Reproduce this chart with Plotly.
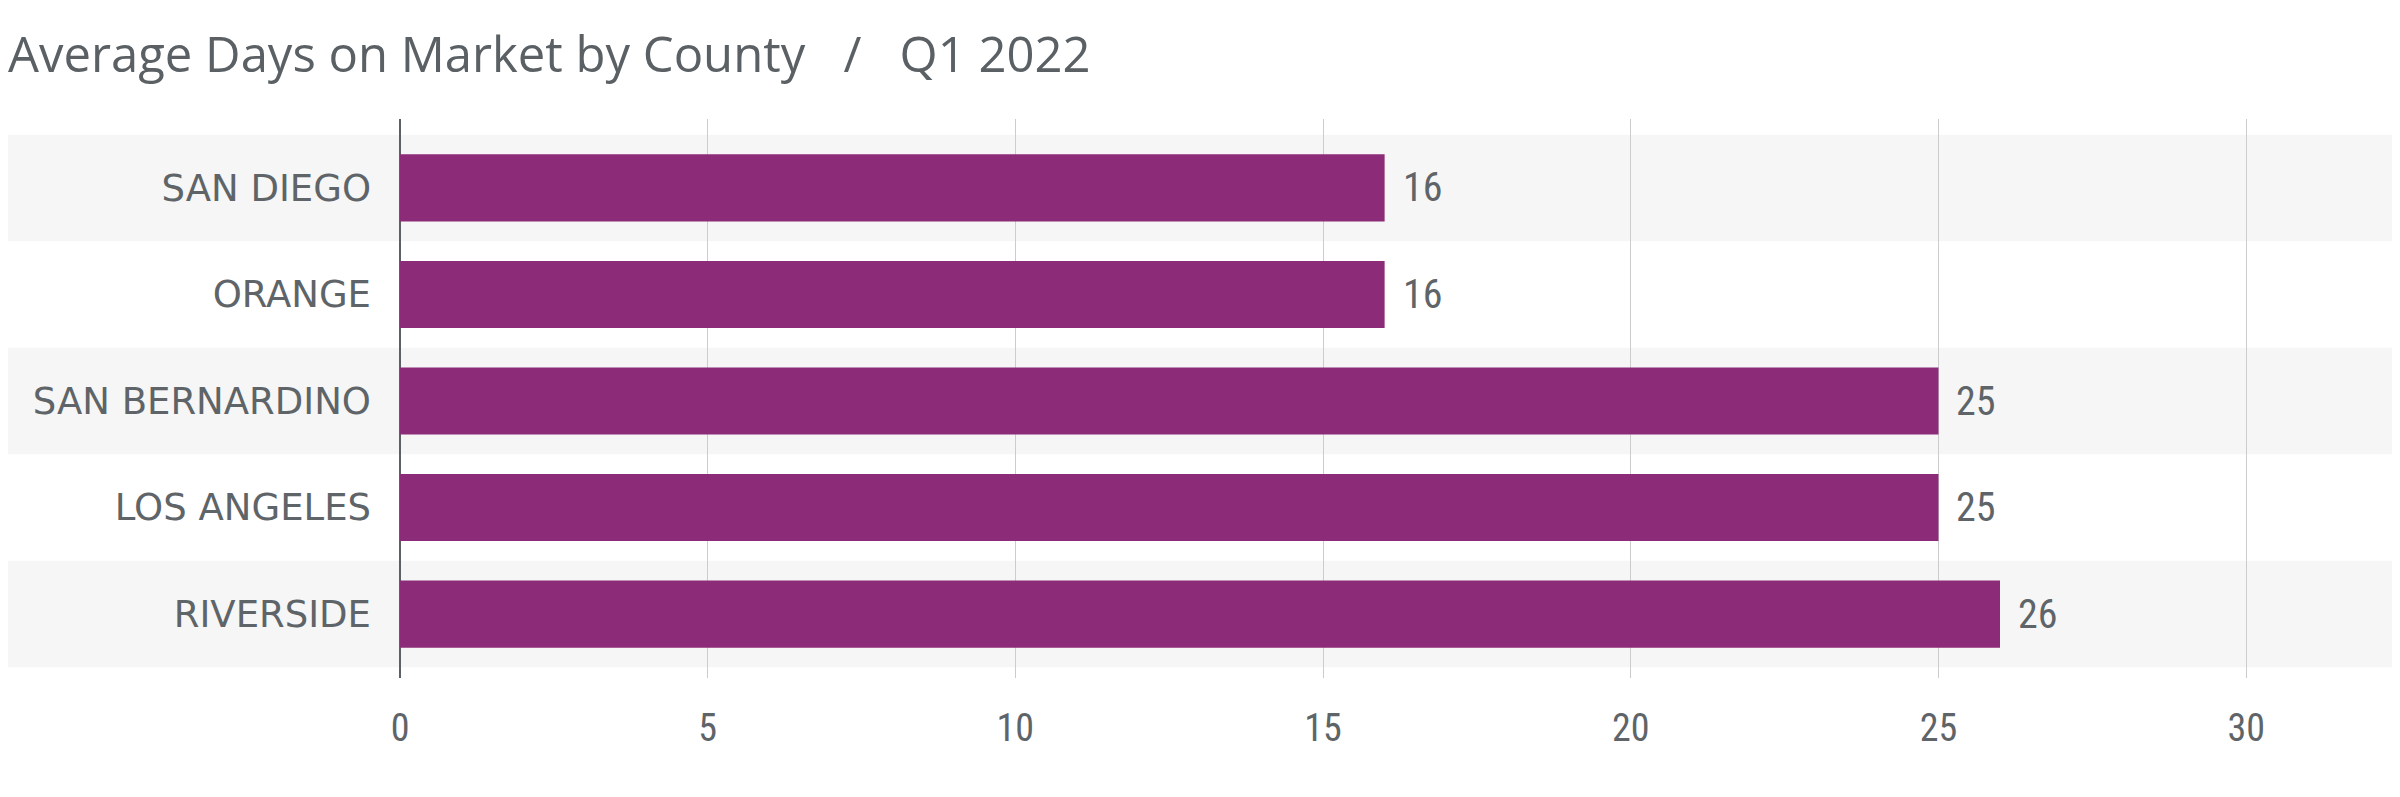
import plotly.graph_objects as go

counties = ["SAN DIEGO", "ORANGE", "SAN BERNARDINO", "LOS ANGELES", "RIVERSIDE"]
days = [16, 16, 25, 25, 26]
x_ticks = [0, 5, 10, 15, 20, 25, 30]
title_text = "Average Days on Market by County \u00a0\u00a0/\u00a0\u00a0 Q1 2022"

BAR = "#8C2B77"
TXT = "#5E6468"
BAND = "#F6F6F6"
NUM_FONT = "Roboto Condensed, DejaVu Sans Condensed"
LBL_FONT = "DejaVu Sans"

OFF = 8  # page body margin
W, H = 2400, 797
ML, MR, MT, MB = 400 - OFF, OFF, 119 - OFF, 119 + OFF
y_range = [4.6, -0.647]
x_range = [0, 32.5]
PW = W - ML - MR

idx = list(range(len(counties)))

fig = go.Figure()
fig.add_trace(go.Bar(
    x=days, y=idx, orientation="h",
    marker=dict(color=BAR, line=dict(width=0)),
    width=0.63, hoverinfo="skip",
))

def ypaper(v):
    return (v - y_range[0]) / (y_range[1] - y_range[0])

shapes = []
for i in idx:
    if i % 2 == 0:
        shapes.append(dict(
            type="rect", xref="paper", yref="paper",
            x0=(3 - OFF - ML) / PW, x1=1,
            y0=ypaper(i + 0.5), y1=ypaper(i - 0.5),
            fillcolor=BAND, line=dict(width=0), layer="below",
        ))

annotations = []
for i, v in zip(idx, days):
    annotations.append(dict(
        x=v, y=i, xref="x", yref="y", text=str(v), showarrow=False,
        xanchor="left", yanchor="middle", xshift=16,
        font=dict(family=NUM_FONT, size=40, color=TXT),
    ))

fig.update_layout(
    width=W, height=H,
    margin=dict(l=ML, r=MR, t=MT, b=MB, pad=0),
    paper_bgcolor="white", plot_bgcolor="rgba(0,0,0,0)",
    showlegend=False,
    shapes=shapes,
    annotations=annotations,
    title=dict(
        text=title_text, xref="container", yref="container",
        x=0, xanchor="left", y=1 - 47 / H, yanchor="middle",
        font=dict(family="Open Sans", size=49, color="#5A6064"),
    ),
    xaxis=dict(
        range=x_range, tickvals=x_ticks, ticktext=[str(t) for t in x_ticks],
        showgrid=True, gridcolor="#CCCCCC", gridwidth=1,
        zeroline=True, zerolinecolor="#5B6064", zerolinewidth=2,
        showline=False, ticks="", ticklabelstandoff=24,
        tickfont=dict(family=NUM_FONT, size=38, color=TXT),
        fixedrange=True,
    ),
    yaxis=dict(
        range=y_range, tickvals=idx, ticktext=counties,
        showgrid=False, zeroline=False, showline=False, ticks="",
        ticklabelstandoff=28,
        tickfont=dict(family=LBL_FONT, size=37, color=TXT),
        fixedrange=True,
    ),
)

fig.write_html("out.html")
